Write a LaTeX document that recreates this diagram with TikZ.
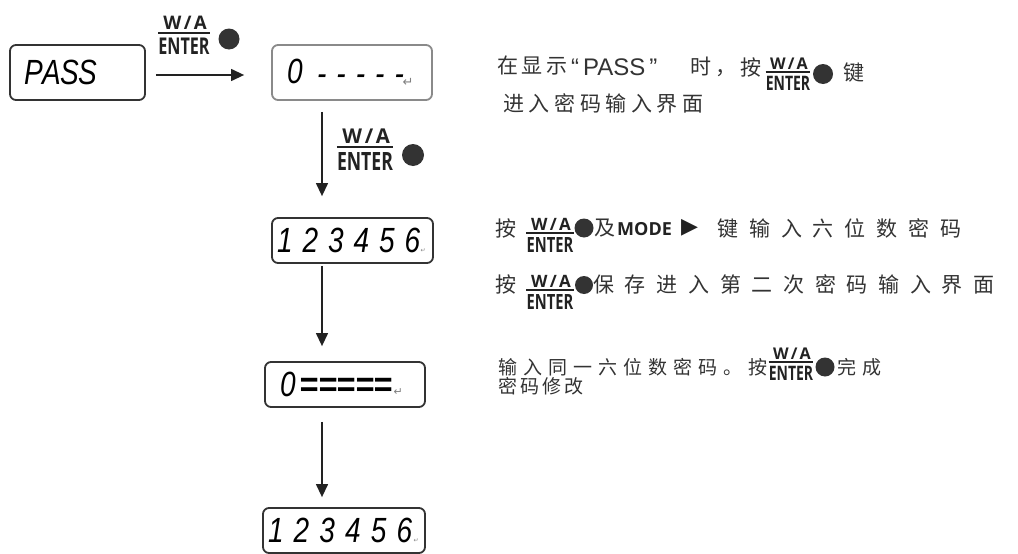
\documentclass[tikz,border=0pt]{standalone}
\usepackage{fontspec}
\usepackage{graphicx}
\usetikzlibrary{arrows.meta}
\setmainfont{Liberation Sans}
\newfontfamily\cjk{Noto Sans CJK SC}
\newfontfamily\bsans{Open Sans}
\newfontfamily\symf{DejaVu Sans}
\newfontfamily\lcdf{Liberation Sans}
\definecolor{ink}{HTML}{333333}
\definecolor{dark}{HTML}{222222}
\definecolor{lgray}{HTML}{8A8A8A}
\newcommand\cjksz[2]{\cjk\fontsize{#1}{#1}\selectfont\addfontfeatures{LetterSpace=#2}}
\newcommand\lcdfont{\lcdf\itshape\fontsize{35}{35}\selectfont}
\newcommand\lc[2]{\makebox[#1][l]{\scalebox{0.8}[1]{#2}}}
\newcommand\dsh[1]{\makebox[#1][l]{\scalebox{0.8}[1]{\raisebox{-2.5pt}{-}}}}
\newcommand\eqc{\makebox[18.6pt][l]{\bfseries\scalebox{0.93}[1]{=}}}
\newcommand\retm[1]{{\symf\upshape\fontsize{#1}{#1}\selectfont\color{gray}↵}}
\tikzset{
  x=1pt, y=-1pt,
  lcdbox/.style={draw=ink, line width=1.8pt, rounded corners=6pt, inner ysep=0pt,
    align=left, text=black, font=\lcdfont},
  flow/.style={draw=dark, line width=1.3pt, -{Triangle[length=13pt,width=12pt]}},
  dotc/.style={circle, fill=ink, inner sep=0pt},
  rt/.style={anchor=west, inner sep=0pt, text=ink},
  wa/.style={anchor=base, inner sep=0pt, text=dark, font=\bsans\bfseries\fontsize{17}{17}\selectfont},
  en/.style={anchor=north, inner sep=0pt, text=dark, font=\bsans\bfseries\fontsize{21}{21}\selectfont},
  fracrule/.style={draw=dark, line width=1.8pt},
  waenter/.pic={
    \node[wa] (-w) at (1,-3) {W\kern2.2pt/\kern2.2pt A};
    \node[en] (-e) at (0,4) {\scalebox{0.7}[1]{ENTER}};
    \draw[fracrule] ([yshift=4pt]-e.north west) -- ([yshift=4pt]-e.north east);
  }
}
\begin{document}
\begin{tikzpicture}
\path[use as bounding box, fill=white] (0,0) rectangle (1018,554);
\clip (0,0) rectangle (1018,554);

% LCD boxes
\node[lcdbox, minimum height=55pt, inner xsep=14pt, text width=107pt] (pass) at (77.5,72.5)
  {\lc{18pt}{P}\lc{18pt}{A}\lc{18pt}{S}\lc{18pt}{S}};
\node[lcdbox, draw=lgray, minimum height=55pt, inner xsep=15pt, text width=130pt] (b1) at (352,72.5)
  {\lc{30pt}{0}\dsh{19.4pt}\dsh{19.4pt}\dsh{19.4pt}\dsh{19.4pt}\dsh{8pt}\raisebox{-3pt}{\retm{13}}};
\node[lcdbox, minimum height=45pt, inner xsep=5pt, text width=151pt] (b2) at (352.5,240.5)
  {\lc{25.5pt}{1}\lc{25.5pt}{2}\lc{25.5pt}{3}\lc{25.5pt}{4}\lc{25.5pt}{5}\lc{16pt}{6}\retm{6}};
\node[lcdbox, minimum height=45pt, inner xsep=15pt, text width=130pt] (b3) at (345,384.5)
  {\lc{19.5pt}{0}\eqc\eqc\eqc\eqc\eqc\hspace{1pt}\raisebox{1pt}{\retm{11}}};
\node[lcdbox, minimum height=45pt, inner xsep=5pt, text width=152pt] (b4) at (344,530.5)
  {\lc{25.7pt}{1}\lc{25.7pt}{2}\lc{25.7pt}{3}\lc{25.7pt}{4}\lc{25.7pt}{5}\lc{17pt}{6}\retm{6}};

% connectors
\draw[flow, shorten <=10pt, shorten >=27pt] ([yshift=-2.5pt]pass.east) -- ([yshift=-2.5pt]b1.west);
\draw[flow, shorten <=11pt, shorten >=21pt] ([xshift=-30pt]b1.south) -- ([xshift=-30.5pt]b2.north);
\draw[flow, shorten <=2pt, shorten >=15pt] ([xshift=-30.5pt]b2.south) -- ([xshift=-23pt]b3.north);
\draw[flow, shorten <=14pt, shorten >=10pt] ([xshift=-23pt]b3.south) -- ([xshift=-22pt]b4.north);

% key labels on the connectors
\pic[transform shape, scale=1.1] (k1) at (184,33) {waenter};
\node[dotc, minimum size=21pt] (k1dot) at (229,39) {};
\pic[transform shape, scale=1.2] (k2) at (365,147) {waenter};
\node[dotc, minimum size=22pt] (k2dot) at (413,155) {};

% right-hand text, line 1 and 2
\node[rt, font={\cjksz{21}{16.7}}] (l1a) at (497,66) {在显示};
\node[rt, font=\fontsize{24}{24}\selectfont] (l1b) at (571,67) {“\kern4pt PASS\kern4pt”};
\node[rt, font={\cjksz{21}{19}}] (l1c) at (690,67) {时，};
\node[rt, font={\cjksz{21}{0}}] (l1e) at (740,67) {按};
\pic[transform shape, scale=0.95] (f1) at (788,72) {waenter};
\node[dotc, minimum size=20pt] (l1dot) at (823,74) {};
\node[rt, font={\cjksz{21}{0}}] (l1d) at (843,73) {键};
\node[rt, font={\cjksz{21}{22}}] (l2) at (503,103) {进入密码输入界面};

% line 3
\node[rt, font={\cjksz{21}{0}}] (l3a) at (495,228) {按};
\pic (f3) at (550,233) {waenter};
\node[dotc, minimum size=19pt] (l3dot) at (584,228) {};
\node[rt, font={\cjksz{21}{0}}] (l3b) at (594,228) {及};
\node[rt, text=dark, font=\bsans\bfseries\fontsize{18}{18}\selectfont] (l3c) at (617,229) {MODE};
\node[rt, text=dark, font=\symf\fontsize{22}{22}\selectfont] (l3d) at (681,228) {▶};
\node[rt, font={\cjksz{21}{52}}] (l3e) at (717,228) {键输入六位数密码};

% line 4
\node[rt, font={\cjksz{21}{0}}] (l4a) at (495,284) {按};
\pic (f4) at (550,290) {waenter};
\node[dotc, minimum size=18pt] (l4dot) at (584,285) {};
\node[rt, font={\cjksz{21}{51}}] (l4b) at (593,284) {保存进入第二次密码输入界面};

% line 5 and 6
\node[rt, font={\cjksz{19}{31.6}}] (l5a) at (498,367) {输入同一六位数密码。按};
\pic[transform shape, scale=0.95] (f5) at (791,362) {waenter};
\node[dotc, minimum size=19pt] (l5dot) at (825,367) {};
\node[rt, font={\cjksz{19}{31.6}}] (l5b) at (837,367) {完成};
\node[rt, font={\cjksz{19}{15.8}}] (l6) at (498,386) {密码修改};
\end{tikzpicture}
\end{document}
